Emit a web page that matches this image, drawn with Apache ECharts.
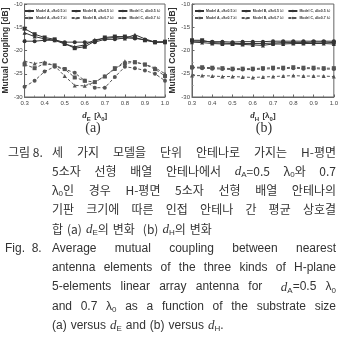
<!DOCTYPE html>
<html>
<head>
<meta charset="utf-8">
<script src="https://cdn.jsdelivr.net/npm/echarts@6/dist/echarts.min.js"></script>
<style>
  html, body { margin: 0; padding: 0; background: #fff; }
  #chart { width: 341px; height: 338px; }
</style>
</head>
<body>
<div id="chart"></div>
<script>
// substrate size (d_E for (a), d_H for (b)) in lambda0
const dValues = [0.3, 0.35, 0.4, 0.45, 0.5, 0.55, 0.6, 0.65, 0.7, 0.75, 0.8, 0.85, 0.9, 0.95, 1.0];

// (a) versus d_E
const eModelA05 = [-15.3, -16.5, -17.2, -17.6, -18.5, -19.5, -19.2, -18.0, -17.2, -17.0, -17.0, -17.2, -17.8, -18.2, -18.1];
const eModelB05 = [-16.2, -17.0, -17.5, -17.8, -18.6, -19.2, -18.8, -17.7, -17.4, -17.2, -17.4, -16.6, -17.5, -18.2, -18.2];
const eModelC05 = [-18.0, -18.0, -17.8, -17.8, -18.2, -18.2, -18.2, -18.2, -17.6, -17.6, -17.3, -17.4, -17.7, -18.2, -18.2];
const eModelA07 = [-23.0, -23.8, -22.8, -23.2, -24.0, -25.8, -26.5, -26.8, -25.6, -23.8, -22.8, -22.5, -23.0, -24.0, -25.5];
const eModelB07 = [-22.3, -22.8, -22.5, -23.3, -25.5, -27.5, -27.6, -26.8, -25.5, -24.0, -22.3, -22.5, -23.0, -23.7, -25.0];
const eModelC07 = [-27.8, -26.5, -24.5, -23.5, -24.0, -24.8, -26.5, -28.0, -28.0, -25.7, -23.5, -23.8, -24.3, -25.0, -26.5];

// (b) versus d_H
const hModelA05 = [-17.8, -17.8, -18.3, -18.4, -18.5, -18.5, -18.5, -18.5, -18.4, -18.3, -18.3, -18.3, -18.2, -18.2, -18.3];
const hModelB05 = [-18.2, -18.3, -18.5, -18.6, -18.6, -18.7, -18.8, -18.9, -18.6, -18.6, -18.5, -18.5, -18.5, -18.5, -18.6];
const hModelC05 = [-18.0, -18.0, -18.1, -18.1, -18.2, -18.1, -18.1, -18.1, -18.0, -18.0, -18.0, -18.0, -18.0, -18.0, -18.0];
const hModelA07 = [-23.6, -23.6, -23.7, -23.8, -23.9, -23.9, -23.9, -23.8, -23.7, -23.7, -23.6, -23.7, -23.7, -23.8, -23.8];
const hModelB07 = [-25.4, -25.4, -25.5, -25.6, -25.6, -25.7, -25.8, -25.7, -25.6, -25.5, -25.4, -25.5, -25.5, -25.5, -25.6];
const hModelC07 = [-23.7, -23.8, -23.9, -24.0, -24.1, -24.1, -24.1, -24.0, -23.9, -23.9, -23.8, -23.9, -23.9, -24.0, -24.0];

const seriesNames = ['A05', 'B05', 'C05', 'A07', 'B07', 'C07'];
const legendLabels = {
  A05: '{t|Model A, }{i|d}{s|A}{t|=0.5 λ}{s|0}',
  B05: '{t|Model B, }{i|d}{s|A}{t|=0.5 λ}{s|0}',
  C05: '{t|Model C, }{i|d}{s|A}{t|=0.5 λ}{s|0}',
  A07: '{t|Model A, }{i|d}{s|A}{t|=0.7 λ}{s|0}',
  B07: '{t|Model B, }{i|d}{s|A}{t|=0.7 λ}{s|0}',
  C07: '{t|Model C, }{i|d}{s|A}{t|=0.7 λ}{s|0}'
};
const symbols = { A: 'rect', B: 'triangle', C: 'circle' };

// caption text (each word can hold {i|..} italic and {s|..} subscript pieces)
const captionLines = [
  { label: '그림 8.', words: ['세', '가지', '모델을', '단위', '안테나로', '가지는', 'H-평면'], justify: true },
  { words: ['5소자', '선형', '배열', '안테나에서', '{i|d}{s|A}=0.5', 'λ{s|0}와', '0.7'], justify: true },
  { words: ['λ{s|0}인', '경우', 'H-평면', '5소자', '선형', '배열', '안테나의'], justify: true },
  { words: ['기판', '크기에', '따른', '인접', '안테나', '간', '평균', '상호결'], justify: true },
  { words: ['합', '(a)', '{i|d}{s|E}의', '변화', '', '(b)', '{i|d}{s|H}의', '변화'], justify: false },
  { label: 'Fig.  8.', words: ['Average', 'mutual', 'coupling', 'between', 'nearest'], justify: true },
  { words: ['antenna', 'elements', 'of', 'the', 'three', 'kinds', 'of', 'H-plane'], justify: true },
  { words: ['5-elements', 'linear', 'array', 'antenna', 'for', '', '{i|d}{s|A}=0.5', 'λ{s|0}'], justify: true },
  { words: ['and', '0.7', 'λ{s|0}', 'as', 'a', 'function', 'of', 'the', 'substrate', 'size'], justify: true },
  { words: ['(a)', 'versus', '{i|d}{s|E}', 'and', '(b)', 'versus', '{i|d}{s|H}.'], justify: false }
];

const TEXT_FONT = '"Liberation Sans", "Noto Sans CJK KR", sans-serif';
const KR_FONT = '"Noto Sans CJK KR", "Liberation Sans", sans-serif';
const capStyles = {
  n: { size: 12, family: TEXT_FONT, style: 'normal' },
  i: { size: 13, family: '"Liberation Serif", serif', style: 'italic' },
  s: { size: 8, family: TEXT_FONT, style: 'normal' }
};

const measureCtx = document.createElement('canvas').getContext('2d');
function wordWidth(word, base) {
  let w = 0;
  const re = /\{(\w)\|([^}]*)\}|([^{]+)/g;
  let m;
  while ((m = re.exec(word)) !== null) {
    const key = m[1] || 'n';
    const txt = m[1] ? m[2] : m[3];
    const st = key === 'n' ? base : capStyles[key];
    measureCtx.font = st.style + ' ' + st.size + 'px ' + st.family;
    w += measureCtx.measureText(txt).width;
  }
  return w;
}

function buildCaption() {
  const out = [];
  const x0 = 52, x1 = 336, yStart = 152, step = 19.3;
  captionLines.forEach(function (line, li) {
    const y = yStart + li * step;
    const korean = li < 5;
    const base = { size: 12, family: korean ? KR_FONT : TEXT_FONT, style: 'normal' };
    const rich = {
      i: { fontStyle: 'italic', fontFamily: capStyles.i.family, fontSize: 13, lineHeight: 15, fill: '#333' },
      s: { fontSize: 8, lineHeight: 8, verticalAlign: 'bottom', fontFamily: TEXT_FONT, fill: '#333' }
    };
    if (line.label) {
      out.push({
        type: 'text', x: li < 5 ? 8 : 5, y: y,
        style: { text: line.label, fontSize: 12, fontFamily: base.family, fill: '#333', verticalAlign: 'middle' }
      });
    }
    const widths = line.words.map(function (w) { return wordWidth(w, base); });
    const total = widths.reduce(function (a, b) { return a + b; }, 0);
    const gap = line.justify ? (x1 - x0 - total) / (line.words.length - 1) : 4;
    let x = x0;
    line.words.forEach(function (w, wi) {
      if (w) {
        out.push({
          type: 'text', x: x, y: y,
          style: {
            text: w, rich: rich, fontSize: 12, lineHeight: 15, fontFamily: base.family,
            fill: '#333', verticalAlign: 'middle', align: 'left'
          }
        });
      }
      x += widths[wi] + gap;
    });
  });
  return out;
}

function makeSeries(name, values, idx) {
  const dashed = name.slice(1) === '07';
  const color = dashed ? '#555' : '#333';
  return {
    type: 'line',
    name: name,
    xAxisIndex: idx,
    yAxisIndex: idx,
    data: dValues.map(function (d, i) { return [d, values[i]]; }),
    symbol: symbols[name[0]],
    symbolSize: 4,
    lineStyle: { width: 1, color: color, type: dashed ? [3, 2] : 'solid' },
    itemStyle: { color: color },
    animation: false
  };
}

function makeXAxis(idx, sub) {
  return {
    type: 'value', gridIndex: idx, min: 0.3, max: 1.0, interval: 0.1,
    name: '{i|d}{s|' + sub + '} {t|[λ}{s|0}{t|]}',
    nameLocation: 'middle', nameGap: 13,
    nameTextStyle: {
      rich: {
        i: { fontStyle: 'italic', fontWeight: 'bold', fontSize: 9, fontFamily: 'Liberation Serif', color: '#333' },
        s: { fontSize: 6, verticalAlign: 'bottom', lineHeight: 6, color: '#333', fontWeight: 'bold' },
        t: { fontSize: 8, fontWeight: 'bold', color: '#333', fontFamily: 'Liberation Sans' }
      }
    },
    axisLine: { lineStyle: { color: '#666', width: 1 } },
    axisTick: { inside: true, length: 2.5, lineStyle: { color: '#666' } },
    minorTick: { show: true, splitNumber: 2, length: 1.5, lineStyle: { color: '#888' } },
    splitLine: { show: false },
    axisLabel: {
      fontSize: 6, color: '#444', margin: 3, fontFamily: 'Liberation Sans',
      formatter: function (v) { return v.toFixed(1); }
    }
  };
}

function makeYAxis(idx) {
  return {
    type: 'value', gridIndex: idx, min: -30, max: -10, interval: 5,
    name: 'Mutual Coupling [dB]', nameLocation: 'middle', nameGap: 12,
    nameTextStyle: { fontSize: 8.5, color: '#333', fontFamily: 'Liberation Sans', fontWeight: 'bold' },
    axisLine: { show: true, lineStyle: { color: '#666', width: 1 } },
    axisTick: { show: true, inside: true, length: 2.5, lineStyle: { color: '#666' } },
    minorTick: { show: true, splitNumber: 2, length: 1.5, lineStyle: { color: '#888' } },
    splitLine: { show: false },
    axisLabel: { fontSize: 6, color: '#444', margin: 2, fontFamily: 'Liberation Sans' }
  };
}

function makeLegend(names, left, top) {
  return {
    data: names, left: left, top: top, orient: 'horizontal',
    itemWidth: 9, itemHeight: 3, itemGap: 4, padding: 0,
    selectedMode: false,
    textStyle: {
      fontSize: 3.5, padding: [0, 0, 0, -3],
      rich: {
        t: { fontSize: 3.5, fontWeight: 'bold', color: '#333' },
        i: { fontSize: 3.5, fontStyle: 'italic', fontWeight: 'bold', color: '#333' },
        s: { fontSize: 2.6, verticalAlign: 'bottom', lineHeight: 3, color: '#333' }
      }
    },
    formatter: function (n) { return legendLabels[n]; }
  };
}

const eData = [eModelA05, eModelB05, eModelC05, eModelA07, eModelB07, eModelC07];
const hData = [hModelA05, hModelB05, hModelC05, hModelA07, hModelB07, hModelC07];

const series = [];
seriesNames.forEach(function (n, i) { series.push(makeSeries(n, eData[i], 0)); });
seriesNames.forEach(function (n, i) { series.push(makeSeries(n, hData[i], 1)); });

const chart = echarts.init(document.getElementById('chart'), null, { renderer: 'canvas' });
chart.setOption({
  animation: false,
  grid: [
    { left: 22, right: 176, top: 4, bottom: 241, show: true, borderColor: '#666', borderWidth: 1 },
    { left: 192, right: 5, top: 4, bottom: 241, show: true, borderColor: '#666', borderWidth: 1 }
  ],
  xAxis: [makeXAxis(0, 'E'), makeXAxis(1, 'H')],
  yAxis: [makeYAxis(0), makeYAxis(1)],
  legend: [
    makeLegend(['A05', 'B05', 'C05'], 24, 9),
    makeLegend(['A07', 'B07', 'C07'], 24, 16),
    makeLegend(['A05', 'B05', 'C05'], 194, 9),
    makeLegend(['A07', 'B07', 'C07'], 194, 16)
  ],
  series: series,
  graphic: [
    { type: 'text', x: 93, y: 128, style: { text: '(a)', fontSize: 14, fontFamily: 'Liberation Serif', fill: '#333', align: 'center', verticalAlign: 'middle' } },
    { type: 'text', x: 264, y: 128, style: { text: '(b)', fontSize: 14, fontFamily: 'Liberation Serif', fill: '#333', align: 'center', verticalAlign: 'middle' } }
  ].concat(buildCaption())
});
</script>
</body>
</html>
